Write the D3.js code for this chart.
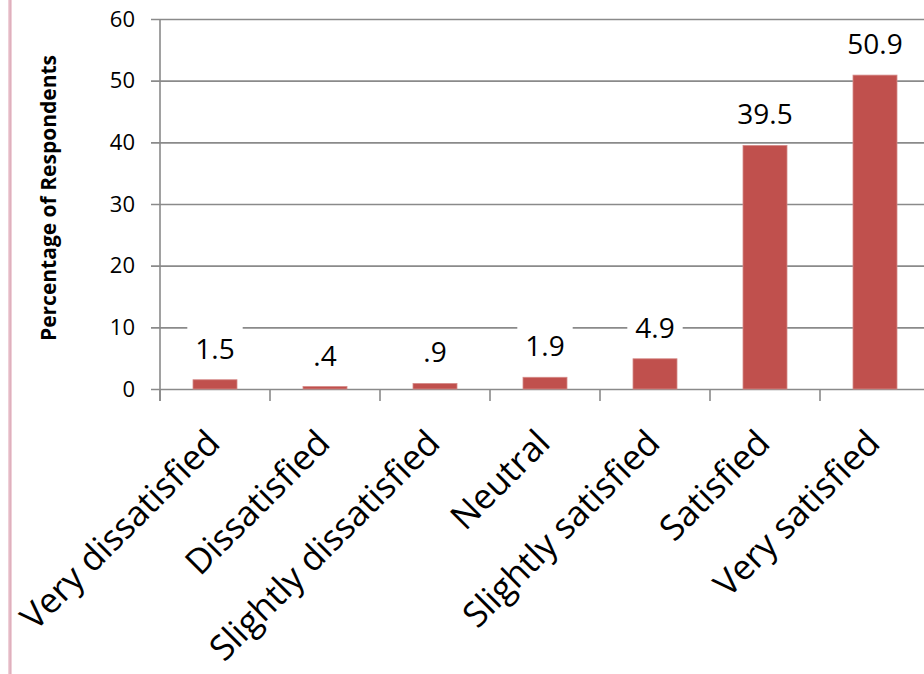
<!DOCTYPE html>
<html>
<head>
<meta charset="utf-8">
<script src="https://cdn.jsdelivr.net/npm/d3@7"></script>
<style>
  html, body { margin: 0; padding: 0; background: #fff; }
  svg { display: block; font-family: "Open Sans", "Noto Sans", sans-serif; }
</style>
</head>
<body>
<svg id="chart" width="924" height="674"></svg>
<script>
// Satisfaction ratings, share of respondents (%)
const categories = [
  "Very dissatisfied", "Dissatisfied", "Slightly dissatisfied",
  "Neutral", "Slightly satisfied", "Satisfied", "Very satisfied"
];
const percentages = [1.5, 0.4, 0.9, 1.9, 4.9, 39.5, 50.9];
const valueLabels = ["1.5", ".4", ".9", "1.9", "4.9", "39.5", "50.9"];
const yTicks = [0, 10, 20, 30, 40, 50, 60];
const yTitle = "Percentage of Respondents";

const svg = d3.select("#chart");
const W = 924, H = 674;
const plot = { left: 160, right: 930, top: 19, bottom: 389 };

// page edge rule
svg.append("rect").attr("x", 8).attr("y", 0).attr("width", 4).attr("height", H)
  .attr("fill", "#efd0d8");
svg.append("rect").attr("x", 9.5).attr("y", 0).attr("width", 1.2).attr("height", H)
  .attr("fill", "#d9a3b3");

const x = d3.scaleBand().domain(categories)
  .range([plot.left, plot.right]).paddingInner(0).paddingOuter(0);
const y = d3.scaleLinear().domain([0, 60]).range([plot.bottom, plot.top]);

const gridColor = "#8a8a8a";

// horizontal gridlines with left ticks
const yAxis = d3.axisLeft(y).tickValues(yTicks)
  .tickSize(-(plot.right - plot.left)).tickPadding(25).tickFormat(d3.format("d"));
const gy = svg.append("g").attr("transform", `translate(${plot.left},0)`).call(yAxis);
gy.select(".domain").remove();
gy.selectAll(".tick line")
  .attr("x1", -9)
  .attr("stroke", gridColor).attr("stroke-width", 1.6);
gy.selectAll(".tick text")
  .attr("font-size", 22).attr("fill", "#000")
  .attr("font-family", "'Open Sans', sans-serif");

// vertical axis line
svg.append("line")
  .attr("x1", plot.left).attr("x2", plot.left)
  .attr("y1", plot.top).attr("y2", plot.bottom + 12)
  .attr("stroke", gridColor).attr("stroke-width", 1.6);

// category boundary ticks below the baseline
const bounds = categories.map(c => x(c)).concat([plot.right]);
svg.append("g").selectAll("line").data(bounds).join("line")
  .attr("x1", d => d).attr("x2", d => d)
  .attr("y1", plot.bottom).attr("y2", plot.bottom + 12)
  .attr("stroke", gridColor).attr("stroke-width", 1.6);

// bars
const barW = x.bandwidth() * 0.4;
svg.append("g").selectAll("rect").data(percentages).join("rect")
  .attr("x", (d, i) => x(categories[i]) + x.bandwidth() / 2 - barW / 2)
  .attr("y", d => y(d))
  .attr("width", barW)
  .attr("height", d => y(0) - y(d))
  .attr("fill", "#c0504d")
  .attr("stroke", "#d58a88").attr("stroke-width", 0.8);

// value labels on white boxes
const lg = svg.append("g");
percentages.forEach((v, i) => {
  const cx = x(categories[i]) + x.bandwidth() / 2;
  const g = lg.append("g");
  const box = g.append("rect").attr("fill", "#fff");
  const t = g.append("text")
    .attr("x", cx).attr("y", y(v) - 21)
    .attr("text-anchor", "middle")
    .attr("font-size", 28).attr("fill", "#000")
    .text(valueLabels[i]);
  const bb = t.node().getBBox();
  box.attr("x", bb.x - 8).attr("y", bb.y - 3)
    .attr("width", bb.width + 16).attr("height", bb.height + 5);
});

// rotated category labels
svg.append("g").selectAll("text").data(categories).join("text")
  .attr("transform", d => `translate(${x(d) + x.bandwidth() / 2 + 7},445) rotate(-45)`)
  .attr("text-anchor", "end")
  .attr("font-size", 35).attr("fill", "#000")
  .text(d => d);

// y-axis title
svg.append("text")
  .attr("transform", "translate(56,198) rotate(-90)")
  .attr("text-anchor", "middle")
  .attr("font-size", 21).attr("font-weight", "bold").attr("fill", "#000")
  .text(yTitle);
</script>
</body>
</html>
